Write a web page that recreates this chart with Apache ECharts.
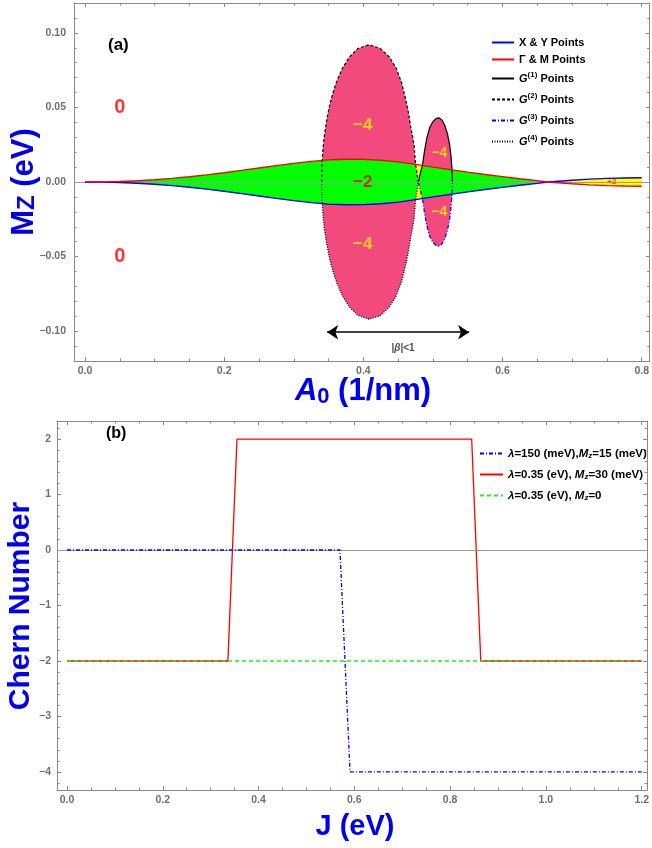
<!DOCTYPE html>
<html><head><meta charset="utf-8">
<script src="https://cdn.jsdelivr.net/npm/echarts@6/dist/echarts.min.js"></script>
<style>html,body{margin:0;padding:0;background:#fff}#c{width:652px;height:848px}</style>
</head><body><div id="c"></div>
<script>
// ---------------- Panel (a) data ----------------
const A0 = [0,0.025,0.05,0.075,0.1,0.125,0.15,0.175,0.2,0.225,0.25,0.275,0.3,0.325,0.35,0.375,0.4,0.425,0.45,0.475,0.5,0.525,0.55,0.575,0.6,0.625,0.65,0.665,0.7,0.725,0.75,0.775,0.8];
const MZ_GAMMA_M = [0,0.0001,0.0003,0.0008,0.0015,0.0024,0.0035,0.0048,0.0062,0.0078,0.0094,0.0110,0.0125,0.0138,0.0148,0.0153,0.0152,0.0146,0.0135,0.0118,0.0100,0.0083,0.0066,0.0050,0.0036,0.0022,0.0009,0,-0.0012,-0.0019,-0.0024,-0.0027,-0.0028];
const MZ_X_Y = [0,-0.0001,-0.0003,-0.0008,-0.0015,-0.0024,-0.0035,-0.0048,-0.0062,-0.0078,-0.0094,-0.0110,-0.0125,-0.0138,-0.0148,-0.0153,-0.0152,-0.0146,-0.0135,-0.0118,-0.0100,-0.0083,-0.0066,-0.0050,-0.0036,-0.0022,-0.0009,0,0.0012,0.0019,0.0024,0.0027,0.0028];
const A0_CROSS = 0.665;

const BIG_A0  = [0.340,0.3405,0.342,0.344,0.347,0.351,0.356,0.362,0.370,0.380,0.392,0.408,0.424,0.437,0.447,0.455,0.461,0.465,0.468,0.471,0.473,0.475,0.477,0.479];
const BIG_TOP = [0,0.0112,0.0221,0.0311,0.0407,0.0502,0.0593,0.0678,0.0763,0.0838,0.0894,0.0920,0.0896,0.0840,0.0765,0.0665,0.0550,0.0460,0.0370,0.0300,0.0240,0.0120,0.0060,0];
const BIG_BOT = [0,-0.0112,-0.0221,-0.0311,-0.0407,-0.0502,-0.0593,-0.0678,-0.0763,-0.0838,-0.0894,-0.0920,-0.0896,-0.0840,-0.0765,-0.0665,-0.0550,-0.0460,-0.0370,-0.0300,-0.0240,-0.0120,-0.0060,0];

const SMALL_A0  = [0.479,0.482,0.485,0.488,0.491,0.495,0.500,0.505,0.509,0.513,0.517,0.521,0.524,0.526,0.5275,0.528];
const SMALL_TOP = [0,0.0060,0.0114,0.0210,0.0290,0.0360,0.0405,0.0427,0.0430,0.0415,0.0380,0.0320,0.0250,0.0170,0.0080,0];
const SMALL_BOT = [0,-0.0060,-0.0114,-0.0210,-0.0290,-0.0360,-0.0405,-0.0427,-0.0430,-0.0415,-0.0380,-0.0320,-0.0250,-0.0170,-0.0080,0];

const GAP_A0 = [0.4748,0.4852,0.479,0.4852,0.4748,0.479];
const GAP_MZ = [0.0116,0.0116,0,-0.0116,-0.0116,0];

const ARROW_A0 = [0.348, 0.552];
const ARROW_MZ = -0.1007;

const LABELS_ZERO   = [[0.05,0.05,'0'],[0.05,-0.05,'0']];
const LABELS_M4_BIG = [[0.399,0.038,'−4'],[0.399,-0.0415,'−4']];
const LABELS_M2     = [[0.399,0,'−2']];
const LABELS_M4_SM  = [[0.509,0.0195,'−4'],[0.509,-0.020,'−4']];
const LABELS_P2     = [[0.757,0,'+2']];
const LABELS_BETA   = [[0.457,-0.1115,'|{i|β}|<1']];

const A_TICKS_X = [0,0.2,0.4,0.6,0.8];
const A_TICKS_Y = [-0.1,-0.05,0,0.05,0.1];

// ---------------- Panel (b) data ----------------
const J_BLUE = [0,0.570,0.591,1.2];
const C_BLUE = [0,0,-4,-4];
const J_RED  = [0,0.336,0.355,0.845,0.864,1.2];
const C_RED  = [-2,-2,2,2,-2,-2];
const J_GREEN = [0,1.2];
const C_GREEN = [-2,-2];
const B_TICKS_X = [0,0.2,0.4,0.6,0.8,1.0,1.2];
const B_TICKS_Y = [-4,-3,-2,-1,0,1,2];

// ---------------- helpers ----------------
const FONT = 'Liberation Sans';
const FRAME = '#8a8a8a';
const TICKLBL = '#6f6f6f';
function steps(a, b, s, skipEvery) {
  const out = [];
  const n = Math.round((b - a) / s);
  for (let k = 0; k <= n; k++) {
    const v = +(a + k * s).toFixed(6);
    if (skipEvery && Math.abs(Math.round(v / skipEvery) * skipEvery - v) < 1e-9) continue;
    out.push(v);
  }
  return out;
}
const A_MINOR_X = steps(0, 0.8, 0.05, 0.2);
const A_MINOR_Y = steps(-0.12, 0.12, 0.01, 0.05);
const B_MINOR_X = steps(0, 1.2, 0.05, 0.2);
const B_MINOR_Y = steps(-4.2, 2.2, 0.2, 1);

const minus = s => s.replace('-', '−');
function axes(kind, grid, min, max, major, minor, fmt, margin) {
  const p = kind === 'x' ? ['bottom','top'] : ['left','right'];
  const base = {type:'value', gridIndex:grid, min, max, splitLine:{show:false}, silent:true};
  const line = {show:true, onZero:false, lineStyle:{color:FRAME, width:1}};
  const tick = (vals, len) => ({show:true, inside:true, length:len, customValues:vals, lineStyle:{color:FRAME, width:1}});
  return [
    {...base, position:p[0], axisLine:line, axisTick:tick(major,4),
      axisLabel:{show:true, customValues:major, formatter:fmt, color:TICKLBL, fontSize:10.5, fontWeight:'bold', fontFamily:FONT, margin}},
    {...base, position:p[1], axisLine:line, axisTick:tick(major,4), axisLabel:{show:false}},
    {...base, position:p[0], axisLine:{show:false, onZero:false}, axisTick:tick(minor,2.5), axisLabel:{show:false}},
    {...base, position:p[1], axisLine:{show:false, onZero:false}, axisTick:tick(minor,2.5), axisLabel:{show:false}}
  ];
}
const zip = (xs, ys) => xs.map((x, i) => [x, ys[i]]);

function polySeries(pts, color, gi) {
  return {type:'custom', xAxisIndex:gi*4, yAxisIndex:gi*4, silent:true, z:1, clip:true,
    data:[pts[0]],
    renderItem:(params, api) => ({type:'polygon', shape:{points: pts.map(p => api.coord(p))}, style:{fill:color}})};
}
function lineSeries(name, xs, ys, color, type, width, gi, z) {
  return {name, type:'line', xAxisIndex:gi*4, yAxisIndex:gi*4, data:zip(xs, ys), symbol:'none', showSymbol:false,
    z: z || 3, silent:true, animation:false,
    lineStyle:{color, type, width}, itemStyle:{color}};
}
function textSeries(items, style, extra) {
  return Object.assign({type:'scatter', xAxisIndex:0, yAxisIndex:0, symbolSize:0, silent:true, z:6,
    data: items.map(t => ({value:[t[0], t[1]], name:t[2]})),
    label:Object.assign({show:true, position:'inside', formatter:'{b}', fontFamily:FONT, fontWeight:'bold'}, style)}, extra || {});
}

// band polygons
const iCross = A0.indexOf(A0_CROSS);
const greenPts = zip(A0.slice(0, iCross + 1), MZ_GAMMA_M.slice(0, iCross + 1))
  .concat(zip(A0.slice(0, iCross + 1), MZ_X_Y.slice(0, iCross + 1)).reverse());
const yellowPts = zip(A0.slice(iCross), MZ_GAMMA_M.slice(iCross))
  .concat(zip(A0.slice(iCross), MZ_X_Y.slice(iCross)).reverse());
const bigPts = zip(BIG_A0, BIG_TOP).concat(zip(BIG_A0, BIG_BOT).reverse());
const smallPts = zip(SMALL_A0, SMALL_TOP).concat(zip(SMALL_A0, SMALL_BOT).reverse());
const gapPts = zip(GAP_A0, GAP_MZ);

const PINK = '#f24a7c', GREEN = '#00ff00', YELLOW = '#ffff00';

const fmtA_x = v => v.toFixed(1);
const fmtA_y = v => minus(v.toFixed(2));
const fmtB_x = v => v.toFixed(1);
const fmtB_y = v => minus(String(Math.round(v)));

const legendA = {
  'X & Y Points':'{b|X & Y Points}',
  'Γ & M Points':'{b|Γ & M Points}',
  'G(1) Points':'{i|G}{sup|(1)}{b| Points}',
  'G(2) Points':'{i|G}{sup|(2)}{b| Points}',
  'G(3) Points':'{i|G}{sup|(3)}{b| Points}',
  'G(4) Points':'{i|G}{sup|(4)}{b| Points}'
};
const legendB = {
  'L150':'{i|λ}{b|=150 (meV),}{i|M}{sub|z}{b|=15 (meV)}',
  'L035a':'{i|λ}{b|=0.35 (eV), }{i|M}{sub|z}{b|=30 (meV)}',
  'L035b':'{i|λ}{b|=0.35 (eV), }{i|M}{sub|z}{b|=0}'
};
function richSet(fs) {
  return {
    b:{fontFamily:FONT, fontWeight:'bold', fontSize:fs, color:'#000', lineHeight:14},
    i:{fontFamily:FONT, fontWeight:'bold', fontStyle:'italic', fontSize:fs, color:'#000', lineHeight:14},
    sup:{fontFamily:FONT, fontWeight:'bold', fontSize:fs-3, color:'#000', lineHeight:14, padding:[0,0,7,0]},
    sub:{fontFamily:FONT, fontWeight:'bold', fontStyle:'italic', fontSize:fs-3.5, color:'#000', lineHeight:14, padding:[5,0,0,0]}
  };
}

const chart = echarts.init(document.getElementById('c'), null, {renderer:'canvas'});
const option = {
  animation:false,
  backgroundColor:'#fff',
  grid:[
    {left:74, top:3, right:1, bottom:487},
    {left:57, top:421, right:2, bottom:58}
  ],
  xAxis: axes('x',0,-0.0158,0.8115,A_TICKS_X,A_MINOR_X,fmtA_x,5)
    .concat(axes('x',1,-0.0208,1.211,B_TICKS_X,B_MINOR_X,fmtB_x,5)),
  yAxis: axes('y',0,-0.12,0.12,A_TICKS_Y,A_MINOR_Y,fmtA_y,8)
    .concat(axes('y',1,-4.325,2.325,B_TICKS_Y,B_MINOR_Y,fmtB_y,6)),
  legend:[
    {data:Object.keys(legendA), orient:'vertical', left:491, top:37, padding:0, itemWidth:22, itemHeight:12, itemGap:6,
      itemStyle:{opacity:0, borderWidth:0},
      formatter:n => legendA[n], textStyle:{rich:richSet(11)}},
    {data:Object.keys(legendB), orient:'vertical', left:479, top:447, padding:0, itemWidth:23, itemHeight:12, itemGap:8,
      itemStyle:{opacity:0, borderWidth:0},
      formatter:n => legendB[n], textStyle:{rich:richSet(11.5)}}
  ],
  graphic:[
    {type:'text', left:108, top:37, style:{text:'(a)', font:'bold 17px "Liberation Sans"', fill:'#000'}},
    {type:'text', left:106, top:426, style:{text:'(b)', font:'bold 16px "Liberation Sans"', fill:'#000'}},
    {type:'text', x:363, y:391, style:{text:'{a|A}{s|0}{n| (1/nm)}', align:'center', verticalAlign:'middle',
      rich:{a:{fontFamily:FONT, fontWeight:'bold', fontStyle:'italic', fontSize:31, fill:'#0000ee'},
            s:{fontFamily:FONT, fontWeight:'bold', fontSize:22, fill:'#0000ee', padding:[12,0,0,0]},
            n:{fontFamily:FONT, fontWeight:'bold', fontSize:31, fill:'#0000ee'}}}},
    {type:'text', x:355, y:827, style:{text:'J (eV)', align:'center', verticalAlign:'middle',
      font:'bold 29px "Liberation Sans"', fill:'#0000ee'}},
    {type:'text', x:24, y:182, rotation:Math.PI/2, style:{text:'{m|M}{s|Z}{m| (eV)}', align:'center', verticalAlign:'middle',
      rich:{m:{fontFamily:FONT, fontWeight:'bold', fontSize:31, fill:'#0000ee'},
            s:{fontFamily:FONT, fontWeight:'bold', fontSize:24, fill:'#0000ee', padding:[6,0,0,0]}}}},
    {type:'text', x:21, y:606, rotation:Math.PI/2, style:{text:'Chern Number', align:'center', verticalAlign:'middle',
      font:'bold 30px "Liberation Sans"', fill:'#0000ee'}}
  ],
  series:[
    // panel (a) fills
    polySeries(bigPts, PINK, 0),
    polySeries(smallPts, PINK, 0),
    polySeries(greenPts, GREEN, 0),
    polySeries(yellowPts, YELLOW, 0),
    polySeries(gapPts, YELLOW, 0),
    // zero line over the fills
    {type:'scatter', xAxisIndex:0, yAxisIndex:0, data:[[0.4,0]], symbolSize:0, silent:true, z:2,
      markLine:{silent:true, symbol:'none', label:{show:false}, animation:false,
        lineStyle:{color:'#9a9a9a', width:1, type:'solid'}, data:[{yAxis:0}]}},
    // panel (a) boundary lines
    lineSeries('G(1) Points', SMALL_A0, SMALL_TOP, '#000', 'solid', 1.2, 0, 4),
    lineSeries('G(2) Points', BIG_A0, BIG_TOP, '#000', [3,2], 1.2, 0, 4),
    lineSeries('G(3) Points', SMALL_A0, SMALL_BOT, '#0000ff', [4,2,1,2], 1.2, 0, 4),
    lineSeries('G(4) Points', BIG_A0, BIG_BOT, '#000', [1,1.5], 1.3, 0, 4),
    lineSeries('X & Y Points', A0, MZ_X_Y, '#0000ff', 'solid', 1.4, 0, 5),
    lineSeries('Γ & M Points', A0, MZ_GAMMA_M, '#ff0000', 'solid', 1.4, 0, 5),
    // arrow
    textSeries([], {}, {z:6, markLine:{silent:true, symbol:['arrow','arrow'], symbolSize:11, label:{show:false}, animation:false,
      lineStyle:{color:'#000', width:1.5, type:'solid'}, itemStyle:{color:'#000'},
      data:[[{coord:[ARROW_A0[0], ARROW_MZ]}, {coord:[ARROW_A0[1], ARROW_MZ]}]]}}),
    // panel (a) texts
    textSeries(LABELS_ZERO, {fontSize:20, color:'#ff0000'}),
    textSeries(LABELS_M4_BIG, {fontSize:17, color:'#ffee00'}),
    textSeries(LABELS_M2, {fontSize:17, color:'#ee0000'}),
    textSeries(LABELS_M4_SM, {fontSize:14, color:'#ffee00'}),
    textSeries(LABELS_P2, {fontSize:8, color:'#ff2200'}),
    textSeries(LABELS_BETA, {fontSize:10, color:'#222', rich:{i:{fontFamily:FONT, fontWeight:'bold', fontStyle:'italic', fontSize:10, color:'#222'}}}),
    // panel (b)
    {type:'scatter', xAxisIndex:4, yAxisIndex:4, data:[], silent:true, z:2,
      markLine:{silent:true, symbol:'none', label:{show:false}, animation:false,
        lineStyle:{color:'#9a9a9a', width:1, type:'solid'}, data:[{yAxis:0}]}},
    lineSeries('L035a', J_RED, C_RED, '#ff0000', 'solid', 1.3, 1, 3),
    lineSeries('L035b', J_GREEN, C_GREEN, '#22ee22', [4,3], 1.3, 1, 4),
    lineSeries('L150', J_BLUE, C_BLUE, '#0000ff', [4,2,1,2], 1.3, 1, 5)
  ]
};
chart.setOption(option);
</script>
</body></html>
